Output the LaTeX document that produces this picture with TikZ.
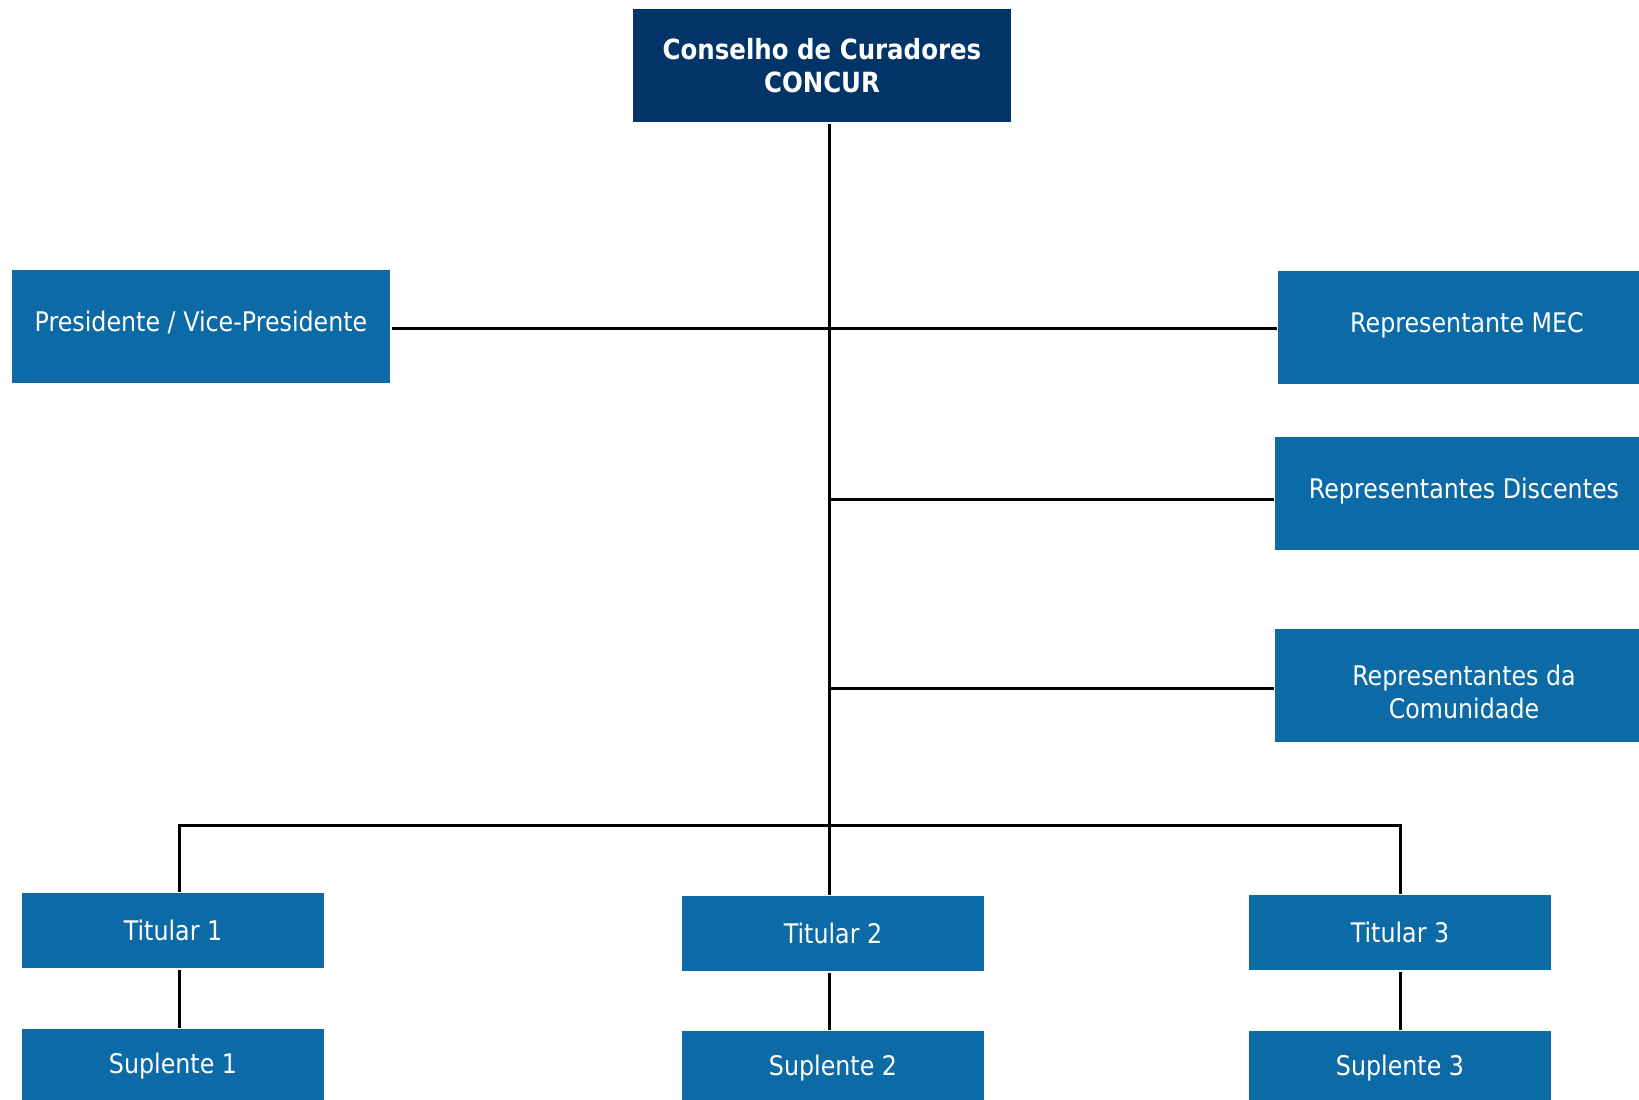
\documentclass[tikz,border=0pt]{standalone}
\usepackage{fontspec}
\setmainfont{DejaVu Sans}[FakeStretch=0.88]
\usepackage{tikz}
\usetikzlibrary{positioning}
\usepackage{xcolor}
\definecolor{boxblue}{RGB}{12,106,166}
\definecolor{navy}{RGB}{2,52,104}

\begin{document}
\begin{tikzpicture}[x=0.5pt, y=-0.5pt,
  box/.style = {fill=boxblue, text=white, inner sep=0pt, align=center, font=\fontsize{13.5}{16.5}\selectfont},
  wide/.style = {box, minimum width=189pt, minimum height=56.5pt},
  single/.style = {wide, text height=10pt, text depth=5pt},
  small/.style = {box, minimum width=151pt, minimum height=37.5pt},
  line width=1.5pt ]

\useasboundingbox (0,0) rectangle (1639,1099);
\clip (0,0) rectangle (1639,1099);

%--- Nodes ---
% concur
\node[wide, fill=navy, font=\bfseries\fontsize{13.9}{16.5}\selectfont] (concur) at (822, 65.5) {Conselho de Curadores\\CONCUR};

% pres
\node[single] (pres) at (201, 326.5) {Presidente / Vice-Presidente};

% mec, disc, comun
\node[single] (mec)  at (1467, 327.5) {Representante MEC};
\node[single] (disc) at (1464, 493.5) {Representantes Discentes};
\node[wide] (comun)  at (1464, 685.5)
  {\raisebox{-8.5pt}[0pt][0pt]{\begin{tabular}{@{}c@{}}Representantes da\\Comunidade\end{tabular}}};

% tit1..tit3
\node[small] (tit1) at (173, 930.5)  {Titular 1};
\node[small] (tit2) at (833, 933.5)  {Titular 2};
\node[small] (tit3) at (1400, 932.5) {Titular 3};

% sup1..sup3
\node[small, below=29pt of tit1] (sup1) {Suplente 1};
\node[small, below=28.5pt of tit2] (sup2) {Suplente 2};
\node[small, below=29pt of tit3] (sup3) {Suplente 3};

%--- Trunk: concur -> tit2 ---
\coordinate (trunk) at ([xshift=-1.75pt]tit2.north);
\draw (concur.south -| trunk) -- (trunk);

%--- Branches to the side boxes ---
\draw ([yshift=-0.75pt]pres.east) -- ([yshift=-0.75pt]pres.east -| mec.west);
\draw ([yshift=-2.75pt]disc.west) -- ([yshift=-2.75pt]disc.west -| trunk);
\draw ([yshift=-1.25pt]comun.west) -- ([yshift=-1.25pt]comun.west -| trunk);

%--- Bus to the titulares ---
\coordinate (bus) at (trunk |- 0, 825);
\coordinate (t1top) at ([xshift=3pt]tit1.north);
\draw (t1top) |- (bus) -| (tit3.north);

%--- tit -> sup ---
\draw ([xshift=3pt]tit1.south) -- ([xshift=3pt]tit1.south |- sup1.north);
\draw (trunk |- tit2.south) -- (trunk |- sup2.north);
\draw (tit3) -- (sup3);

\end{tikzpicture}
\end{document}
